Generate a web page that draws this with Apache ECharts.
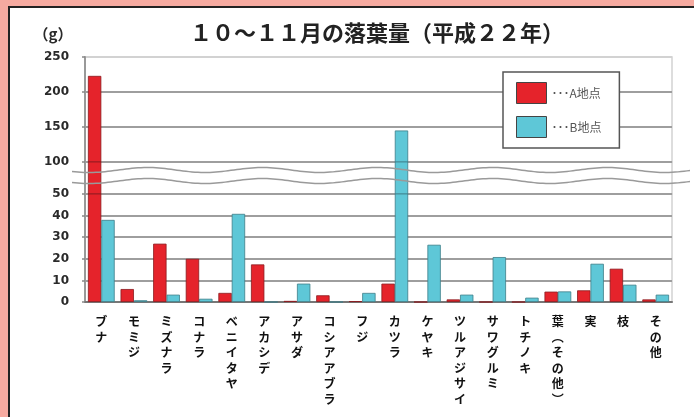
<!DOCTYPE html>
<html><head><meta charset="utf-8">
<script src="https://cdn.jsdelivr.net/npm/echarts@6/dist/echarts.min.js"></script>
<style>
html,body{margin:0;padding:0;width:694px;height:417px;overflow:hidden;background:#f6aaa0;}
#frame{position:absolute;left:8px;top:6px;right:0;bottom:0;background:#fff;border-left:2px solid #222;border-top:2px solid #222;}
#chart{position:absolute;left:0;top:0;width:694px;height:417px;}
</style></head><body><div id="frame"></div><div id="chart"></div>
<script>
const titleText = '１０～１１月の落葉量（平成２２年）';
const unitText = '（g）';
const categories = ['ブナ','モミジ','ミズナラ','コナラ','ベニイタヤ','アカシデ','アサダ','コシアアブラ','フジ','カツラ','ケヤキ','ツルアジサイ','サワグルミ','トチノキ','葉(その他)','実','枝','その他'];
const seriesNames = ['A地点','B地点'];
const valuesA = [223, 6, 27, 20, 4.2, 17.4, 0.5, 3.1, 0.4, 8.5, 0, 1.2, 0, 0, 4.8, 5.4, 15.4, 1.2];
const valuesB = [38, 0.8, 3.4, 1.5, 40.8, 0, 8.5, 0, 4.2, 145, 26.5, 3.4, 20.8, 2, 4.9, 17.7, 8, 3.4];
const upperTicks = [100, 250, 50];   // min, max, interval
const middleRange = [50, 100];
const lowerTicks = [0, 50, 10];
const colors = ['#e5232b', '#5ec7d7'];

const chart = echarts.init(document.getElementById('chart'));
const L = 85, R = 22;
const grids = [
  {left: L, right: R, top: 57, height: 105},
  {left: L, right: R, top: 162, height: 32},
  {left: L, right: R, top: 194, height: 108}
];
grids.forEach(g => { g.show = true; g.borderColor = '#d2d2d2'; g.borderWidth = 1.5; g.backgroundColor = 'transparent'; });

const yLabel = {fontFamily: 'DejaVu Sans', fontWeight: 'bold', fontSize: 12, color: '#2a2a2a', margin: 16};
const yAxisLine = {show: true, lineStyle: {color: '#999', width: 2}};
const yTick = {show: true, length: 3, lineStyle: {color: '#888', width: 1.5}};
const yAxes = [
  {gridIndex: 0, type: 'value', min: upperTicks[0], max: upperTicks[1], interval: upperTicks[2],
   axisLine: yAxisLine, axisTick: yTick, axisLabel: yLabel,
   splitLine: {show: true, lineStyle: {color: ['#9e9e9e', '#9e9e9e', '#9e9e9e', '#d2d2d2'], width: 2}}},
  {gridIndex: 1, type: 'value', min: middleRange[0], max: middleRange[1],
   axisLine: yAxisLine, axisTick: {show: false}, axisLabel: {show: false}, splitLine: {show: false}},
  {gridIndex: 2, type: 'value', min: lowerTicks[0], max: lowerTicks[1], interval: lowerTicks[2],
   axisLine: yAxisLine, axisTick: yTick, axisLabel: yLabel,
   splitLine: {show: true, lineStyle: {color: '#9e9e9e', width: 2}}}
];
const hiddenX = i => ({gridIndex: i, type: 'category', data: categories, axisLine: {show: false}, axisTick: {show: false}, axisLabel: {show: false}, splitLine: {show: false}});
const xAxes = [hiddenX(0), hiddenX(1), {
  gridIndex: 2, type: 'category', data: categories,
  axisLine: {show: true, lineStyle: {color: '#777', width: 2}},
  axisTick: {show: false},
  axisLabel: {
    interval: 0, margin: 12, fontSize: 12, fontWeight: 'bold', lineHeight: 15.5, color: '#111',
    fontFamily: 'Noto Sans CJK JP', verticalAlign: 'top',
    formatter: v => v.replace('(', '︵').replace(')', '︶').split('').join('\n')
  }
}];

const series = [];
[0, 1, 2].forEach(gi => {
  [valuesA, valuesB].forEach((vals, si) => {
    series.push({
      type: 'bar', name: seriesNames[si], xAxisIndex: gi, yAxisIndex: gi, data: vals,
      barGap: '0%', barCategoryGap: '18%', clip: true,
      itemStyle: {color: colors[si], borderColor: si === 0 ? '#8a1a1e' : '#3d7d88', borderWidth: 0.8}
    });
  });
});

function wave(y0) {
  const pts = [];
  for (let x = 72; x <= 690; x += 3) pts.push([x, y0 + 2.5 * Math.sin((x - 72) / 115 * 2 * Math.PI + 0.6)]);
  return pts;
}

chart.setOption({
  animation: false,
  grid: grids,
  xAxis: xAxes,
  yAxis: yAxes,
  legend: {
    data: seriesNames, orient: 'vertical', left: 503, top: 72,
    itemWidth: 30, itemHeight: 21, itemGap: 12, padding: [10, 18, 10, 13],
    backgroundColor: '#fff', borderColor: '#555', borderWidth: 1.5, icon: 'rect',
    itemStyle: {borderColor: '#444', borderWidth: 1},
    formatter: n => '･･･' + n,
    textStyle: {fontSize: 12, color: '#555', fontFamily: 'Noto Sans CJK JP'}
  },
  graphic: [
    {type: 'text', x: 377, y: 33, z: 100, style: {text: titleText, fontSize: 22, fontWeight: 'bold', fontFamily: 'Noto Sans CJK JP', fill: '#222', textAlign: 'center', textVerticalAlign: 'middle'}},
    {type: 'text', x: 53, y: 34, z: 100, style: {text: unitText, fontSize: 15, fontWeight: 'bold', fontFamily: 'Noto Sans CJK JP', fill: '#2a2a2a', textAlign: 'center', textVerticalAlign: 'middle'}},
    {type: 'polyline', z: 100, shape: {points: wave(170)}, style: {stroke: '#9a9a9a', lineWidth: 1.5, fill: null}},
    {type: 'polyline', z: 100, shape: {points: wave(181)}, style: {stroke: '#9a9a9a', lineWidth: 1.5, fill: null}}
  ],
  series: series
});
</script></body></html>
